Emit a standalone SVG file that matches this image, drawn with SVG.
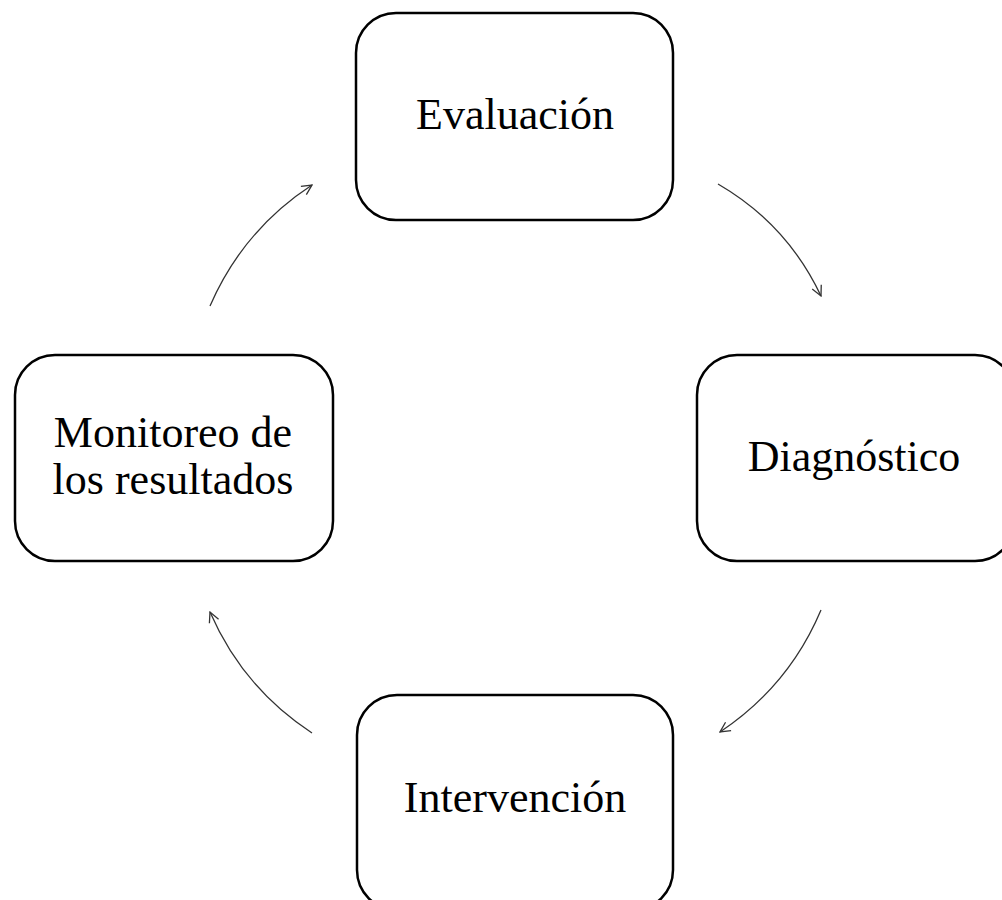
<svg xmlns="http://www.w3.org/2000/svg" width="1002" height="900" viewBox="0 0 1002 900">
<style>
.box{fill:#fff;stroke:#000;stroke-width:2.5}
.lbl{font-family:"Liberation Serif","Times New Roman",serif;font-size:44px;fill:#000;text-anchor:middle}
.arr{fill:none;stroke:#333;stroke-width:1.3;marker-end:url(#ah)}
</style>
<defs>
<marker id="ah" viewBox="0 0 12 12" refX="11" refY="6" markerWidth="12" markerHeight="12" markerUnits="userSpaceOnUse" orient="auto">
<path d="M1,1 L11,6 L1,11" fill="none" stroke="#333" stroke-width="1.3"/>
</marker>
</defs>
<rect width="1002" height="900" fill="#fff"/>
<g id="evaluacion">
<rect class="box" x="356" y="13" width="317" height="207" rx="40" ry="40"/>
<text class="lbl" x="515" y="129">Evaluación</text>
</g>
<g id="diagnostico">
<rect class="box" x="697" y="355" width="318" height="206" rx="40" ry="40"/>
<text class="lbl" x="854" y="471">Diagnóstico</text>
</g>
<g id="intervencion">
<rect class="box" x="357" y="695" width="316" height="215" rx="40" ry="40"/>
<text class="lbl" x="515" y="812">Intervención</text>
</g>
<g id="monitoreo">
<rect class="box" x="15" y="355" width="318" height="206" rx="40" ry="40"/>
<text class="lbl" x="173" y="447">Monitoreo de</text>
<text class="lbl" x="173" y="494">los resultados</text>
</g>
<g id="connectors">
<path class="arr" d="M718,184 Q787,224 821,296"/>
<path class="arr" d="M821,610 Q789,686 720,732"/>
<path class="arr" d="M312,733 Q243,688 210,612"/>
<path class="arr" d="M210,306 Q243,230 312,185"/>
</g>
</svg>
